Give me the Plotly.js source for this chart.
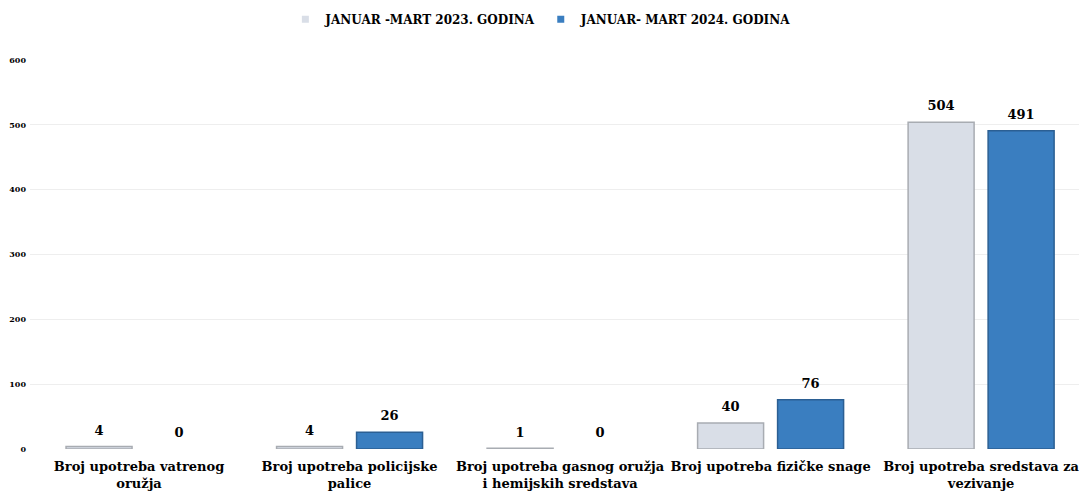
<!DOCTYPE html>
<html>
<head>
<meta charset="utf-8">
<script src="https://cdn.plot.ly/plotly-3.0.1.min.js"></script>
<style>html,body{margin:0;padding:0;background:#fff;}#chart{width:1079px;height:493px;}</style>
</head>
<body>
<div id="chart"></div>
<script>
const categories = [
  "Broj upotreba vatrenog<br>oružja",
  "Broj upotreba policijske<br>palice",
  "Broj upotreba gasnog oružja<br>i hemijskih sredstava",
  "Broj upotreba fizičke snage",
  "Broj upotreba sredstava za<br>vezivanje"
];
const series2023Name = "JANUAR -MART 2023. GODINA";
const series2024Name = "JANUAR- MART 2024. GODINA";
const values2023 = [4, 4, 1, 40, 504];
const values2024 = [0, 26, 0, 76, 491];
const yTicks = [0, 100, 200, 300, 400, 500, 600];

const FONT = "DejaVu Serif, serif";
const lightColor = "#d9dee7";
const blueColor = "#3a7ec0";
const labelFont = {family: FONT, size: 13, color: "#000", weight: "bold"};

function barTrace(vals, name, color, lineColor, group) {
  return {
    type: "bar", x: categories, y: vals, name: name, showlegend: false,
    offsetgroup: group, alignmentgroup: "g",
    marker: {color: color, line: {color: lineColor, width: vals.map(v => v > 0 ? 1.5 : 0)}},
    hoverinfo: "y"
  };
}
function labelTrace(vals, group) {
  return {
    type: "scatter", mode: "markers+text", x: categories, y: vals, showlegend: false,
    offsetgroup: group, alignmentgroup: "g",
    marker: {size: 12, opacity: 0},
    text: vals.map(String), textposition: "top center", cliponaxis: false,
    textfont: labelFont, hoverinfo: "skip"
  };
}

const traces = [
  barTrace(values2023, series2023Name, lightColor, "#a8acb2", "a"),
  barTrace(values2024, series2024Name, blueColor, "#2b5f93", "b"),
  labelTrace(values2023, "a"),
  labelTrace(values2024, "b"),
  {
    type: "scatter", mode: "markers", x: [null], y: [null], name: series2023Name,
    marker: {symbol: "square", size: 7, color: lightColor}
  },
  {
    type: "scatter", mode: "markers", x: [null], y: [null], name: series2024Name,
    marker: {symbol: "square", size: 7, color: blueColor}
  }
];

const layout = {
  width: 1079, height: 493,
  margin: {l: 30, r: 0, t: 60, b: 44},
  paper_bgcolor: "#fff", plot_bgcolor: "#fff",
  barmode: "group", bargap: 0.24, bargroupgap: 0.175,
  scattermode: "group", scattergap: 0.24,
  font: {family: FONT, color: "#000"},
  showlegend: true,
  legend: {
    orientation: "h", x: 0.487, xanchor: "center", y: 1.105, yanchor: "middle",
    font: {family: FONT, size: 12, weight: "bold", color: "#000"},
    itemwidth: 30, tracegroupgap: 0, itemclick: false
  },
  xaxis: {
    type: "category", range: [-0.518, 4.465],
    showgrid: false, zeroline: false, showline: false,
    tickfont: {family: FONT, size: 13, weight: "bold", color: "#000"},
    ticks: "", ticklabelstandoff: 8, automargin: false
  },
  yaxis: {
    range: [0, 600], tickvals: yTicks, ticktext: yTicks.map(String),
    showgrid: true, gridcolor: "#eeeeee", gridwidth: 1, zeroline: false, showline: false,
    tickfont: {family: FONT, size: 8, weight: "bold", color: "#000"},
    ticks: "", ticklabelstandoff: 3, automargin: false
  }
};

Plotly.newPlot("chart", traces, layout, {displayModeBar: false, staticPlot: true});
</script>
</body>
</html>
